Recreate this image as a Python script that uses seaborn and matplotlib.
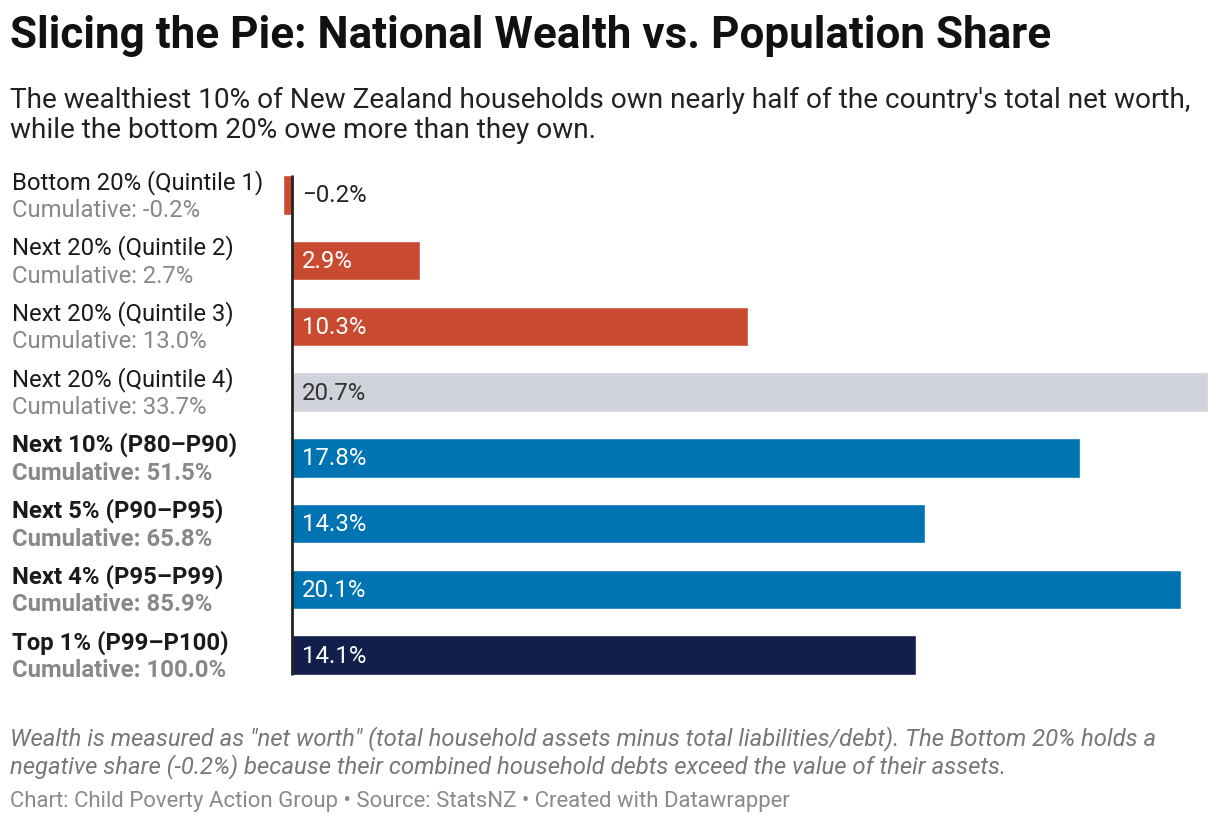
import numpy as np
import pandas as pd
import seaborn as sns
import matplotlib.pyplot as plt
import matplotlib.transforms as mtransforms

groups = ["Bottom 20% (Quintile 1)", "Next 20% (Quintile 2)", "Next 20% (Quintile 3)",
          "Next 20% (Quintile 4)", "Next 10% (P80\u2013P90)", "Next 5% (P90\u2013P95)",
          "Next 4% (P95\u2013P99)", "Top 1% (P99\u2013P100)"]
shares = [-0.2, 2.9, 10.3, 20.7, 17.8, 14.3, 20.1, 14.1]
cumulative = [-0.2, 2.7, 13.0, 33.7, 51.5, 65.8, 85.9, 100.0]
bar_colors = ["#c84b31", "#c84b31", "#c84b31", "#d1d3da",
              "#0073b2", "#0073b2", "#0073b2", "#121f4b"]
bold_rows = [False, False, False, False, True, True, True, True]

df = pd.DataFrame({"group": groups, "share": shares})

sns.set_theme(style="white")
plt.rcParams["font.family"] = ["Roboto", "DejaVu Sans"]

fig = plt.figure(figsize=(12.2, 8.28), dpi=100)
ax = fig.add_axes([283 / 1220, 1 - 689 / 828, (1208 - 283) / 1220, (689 - 163) / 828])

sns.barplot(data=df, x="share", y="group", hue="group", palette=bar_colors,
            legend=False, orient="h", width=0.6, saturation=1, ax=ax)
ax.set_xlim(-0.2, 20.7)
ax.set_ylim(7.5, -0.5)
ax.vlines(0, -0.3, 7.3, color="#222222", lw=2, zorder=5)
ax.set_axis_off()

# value labels
for i, v in enumerate(shares):
    txt = f"{v:.1f}%".replace("-", "\u2212")
    if v < 0:
        col = "#222222"
    elif bar_colors[i] == "#d1d3da":
        col = "#333333"
    else:
        col = "white"
    ax.text(0.22, i, txt, color=col, fontsize=17.3, va="center", ha="left", zorder=6)

# left labels
trans = mtransforms.blended_transform_factory(fig.transFigure, ax.transData)
for i, (g, c) in enumerate(zip(groups, cumulative)):
    w = "bold" if bold_rows[i] else "normal"
    ax.text(12 / 1220, i - 0.21, g, transform=trans, fontsize=17.2, color="#1a1a1a",
            fontweight=w, va="center", ha="left")
    ax.text(12 / 1220, i + 0.22, f"Cumulative: {c:.1f}%", transform=trans, fontsize=17.2,
            color="#888888", fontweight=w, va="center", ha="left")

fig.text(10 / 1220, 1 - 36 / 828, "Slicing the Pie: National Wealth vs. Population Share",
         fontsize=31.7, fontweight="bold", color="#111111", va="center", ha="left")
fig.text(10 / 1220, 1 - 100 / 828,
         "The wealthiest 10% of New Zealand households own nearly half of the country's total net worth,",
         fontsize=20.2, color="#222222", va="center", ha="left")
fig.text(10 / 1220, 1 - 131 / 828, "while the bottom 20% owe more than they own.",
         fontsize=20.2, color="#222222", va="center", ha="left")

fig.text(10 / 1220, 1 - 739 / 828,
         "Wealth is measured as \"net worth\" (total household assets minus total liabilities/debt). The Bottom 20% holds a",
         fontsize=17.2, style="italic", color="#777777", va="center", ha="left")
fig.text(10 / 1220, 1 - 767 / 828,
         "negative share (-0.2%) because their combined household debts exceed the value of their assets.",
         fontsize=17.2, style="italic", color="#777777", va="center", ha="left")
fig.text(10 / 1220, 1 - 802 / 828,
         "Chart: Child Poverty Action Group \u2022 Source: StatsNZ \u2022 Created with Datawrapper",
         fontsize=15.9, color="#8a8a8a", va="center", ha="left")

fig.savefig("out.png", dpi=100, facecolor="white")
